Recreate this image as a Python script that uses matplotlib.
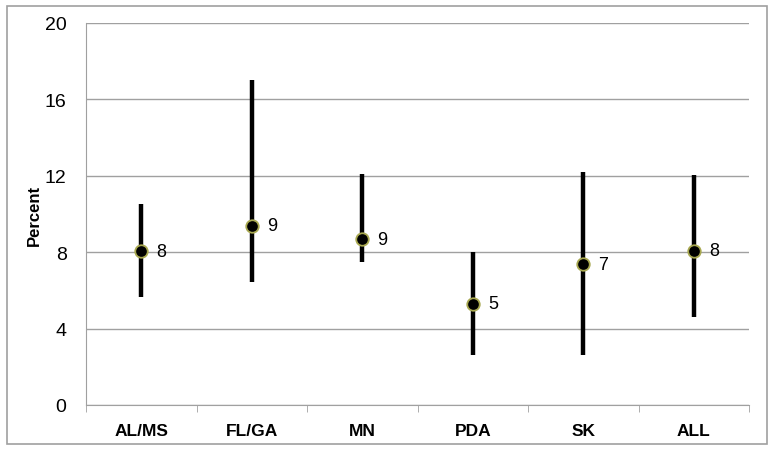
import matplotlib.pyplot as plt
import numpy as np
from matplotlib.patches import Rectangle

plt.rcParams['font.family'] = ['Liberation Sans', 'DejaVu Sans']

# Datos
categorias = ['AL/MS', 'FL/GA', 'MN', 'PDA', 'SK', 'ALL']
valores = [8.05, 9.39, 8.69, 5.29, 7.38, 8.08]
inferior = [5.65, 6.46, 7.50, 2.63, 2.63, 4.59]
superior = [10.5, 17.0, 12.1, 8.0, 12.2, 12.05]
etiquetas = ['8', '9', '9', '5', '7', '8']

x = np.arange(len(categorias))
valores = np.array(valores)
err = [valores - np.array(inferior), np.array(superior) - valores]

fig = plt.figure(figsize=(7.72, 4.52), dpi=100)
ax = fig.add_axes([86/772, 1 - 406/452, (749 - 86)/772, (406 - 24)/452])

# Marco exterior
fig.patches.append(Rectangle((7/772, 7/452), 760/772, 438/452, transform=fig.transFigure,
                             fill=False, edgecolor='#a0a0a0', lw=1.2))

ax.errorbar(x, valores, yerr=err, fmt='none', ecolor='black', elinewidth=3.2, capsize=0, zorder=3)
ax.plot(x, valores, 'o', ms=9, mfc='black', mec='#a8a850', mew=1.3, zorder=4)
for xi, yi, et in zip(x, valores, etiquetas):
    ax.annotate(et, (xi, yi), xytext=(11, 0), textcoords='offset points',
                va='center', ha='left', fontsize=13)

ax.set_xlim(-0.5, len(categorias) - 0.5)
ax.set_ylim(0, 20)
ax.set_yticks([0, 4, 8, 12, 16, 20])
ax.set_xticks(x)
ax.set_xticklabels(categorias, fontsize=12.5, fontweight='bold')
ax.set_xticks(np.arange(-0.5, len(categorias)), minor=True)
ax.tick_params(axis='x', which='major', length=0, pad=13)
ax.tick_params(axis='x', which='minor', length=5, color='#a0a0a0', direction='out')
ax.tick_params(axis='y', length=0, labelsize=14, pad=14)
ax.set_ylabel('Percent', fontsize=12, fontweight='bold', labelpad=2)

ax.grid(axis='y', color='#a0a0a0', lw=1)
ax.set_axisbelow(True)
for s in ['top', 'right']:
    ax.spines[s].set_visible(False)
ax.spines['left'].set_color('#a0a0a0')
ax.spines['bottom'].set_color('#a0a0a0')

fig.savefig('out.png', dpi=100)
